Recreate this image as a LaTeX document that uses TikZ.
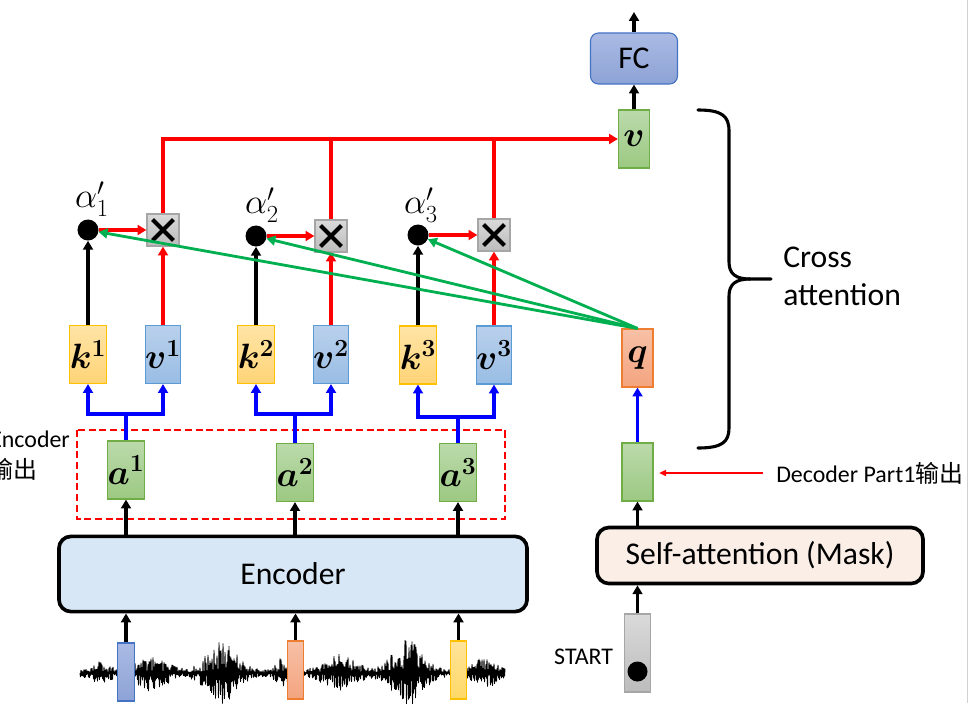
\RequirePackage{fix-cm}
\documentclass[tikz,border=0pt]{standalone}
\usepackage[no-math]{fontspec}
\setmainfont{Carlito}
\newfontfamily\cjk{Noto Sans CJK SC}
\usepackage{bm}
\usetikzlibrary{arrows.meta,calc}
\definecolor{gtop}{HTML}{BBDAAB}
\definecolor{gbot}{HTML}{9CC982}
\definecolor{gborder}{HTML}{70AD47}
\definecolor{ktop}{HTML}{FFE4A6}
\definecolor{kbot}{HTML}{FFD477}
\definecolor{kborder}{HTML}{FFC000}
\definecolor{vtop}{HTML}{B9D0EC}
\definecolor{vbot}{HTML}{99BDE4}
\definecolor{vborder}{HTML}{5B9BD5}
\definecolor{qtop}{HTML}{F7C0A6}
\definecolor{qbot}{HTML}{F4A47F}
\definecolor{qborder}{HTML}{ED7D31}
\definecolor{xtop}{HTML}{DADADA}
\definecolor{xbot}{HTML}{BCBCBC}
\definecolor{xborder}{HTML}{A6A6A6}
\definecolor{fctop}{HTML}{AABAE3}
\definecolor{fcbot}{HTML}{8DA3D6}
\definecolor{fcborder}{HTML}{4472C4}
\definecolor{ytop}{HTML}{FFE39A}
\definecolor{ybot}{HTML}{FFD966}
\definecolor{encfill}{HTML}{D8E7F6}
\definecolor{safill}{HTML}{FAEEE7}
\definecolor{grn}{HTML}{00B050}
\begin{document}
\begin{tikzpicture}[x=0.025cm,y=-0.025cm,
  tarrow/.style={-{Triangle[length=6.3pt,width=7pt]}},
  ln/.style={line width=2.3pt},
  redline/.style={ln, draw=red, color=red},
  blueline/.style={ln, draw=blue, color=blue},
  greenline/.style={line width=2pt, draw=grn, color=grn},
  vecbox/.style={draw, line width=0.8pt, minimum width=0.775cm, minimum height=1.45cm, inner sep=0pt, font=\fontsize{25pt}{28pt}\selectfont},
  kbox/.style={vecbox, draw=kborder, top color=ktop, bottom color=kbot},
  vbox/.style={vecbox, draw=vborder, top color=vtop, bottom color=vbot},
  abox/.style={vecbox, draw=gborder, top color=gtop, bottom color=gbot},
  qbox/.style={vecbox, draw=qborder, top color=qtop, bottom color=qbot},
  dot/.style={circle, fill=black, minimum size=0.525cm, inner sep=0pt},
  xbox/.style={draw=xborder, line width=0.8pt, top color=xtop, bottom color=xbot, minimum size=0.8cm, inner sep=0pt,
    path picture={
      \draw[black, line width=2.8pt] ([shift={(-0.26cm,-0.26cm)}]path picture bounding box.center) -- ([shift={(0.26cm,0.26cm)}]path picture bounding box.center);
      \draw[black, line width=2.8pt] ([shift={(-0.26cm,0.26cm)}]path picture bounding box.center) -- ([shift={(0.26cm,-0.26cm)}]path picture bounding box.center);
    }},
  alab/.style={inner sep=0pt, font=\fontsize{25pt}{28pt}\selectfont},
  bigtext/.style={font=\fontsize{22.5pt}{27pt}\selectfont},
  smalltext/.style={inner sep=0pt, font=\fontsize{17pt}{20pt}\selectfont},
  wblock/.style={draw, line width=0.8pt, minimum width=0.41cm, minimum height=1.45cm, inner sep=0pt},
  declare function={g(\x,\c,\w)=exp(-min(9,((\x-\c)/\w)*((\x-\c)/\w)));
    env(\x)=3.5+9*g(\x,100,12)+17*g(\x,152,18)+28*g(\x,222,20)+12*g(\x,282,8)+16*g(\x,340,20)+30*g(\x,408,20)+13*g(\x,485,14);}
]
\useasboundingbox (0,0) rectangle (971,703);
\clip (0,0) rectangle (971,703);
\fill[white] (0,0) rectangle (971,703);
\draw[line width=1.1pt, draw=black!18] (967.3,0) -- (967.3,703);

% waveform
\pgfmathsetseed{11}
\draw[line width=0.65pt, line join=bevel] (80,673) \foreach \i in {1,...,850} { -- ({80+0.5*\i},{673+(2*mod(\i,2)-1)*env(80+0.5*\i)*(0.12+0.88*rnd)}) };

% waveform blocks
\node[wblock, draw=fcborder, top color=fctop, bottom color=fcbot] (b1) at (126,672) {};
\node[wblock, draw=qborder, top color=qtop, bottom color=qbot] (b2) at (295.5,670) {};
\node[wblock, draw=kborder, top color=ytop, bottom color=ybot] (b3) at (458.5,670) {};

% encoder
\node[draw, line width=2.6pt, rounded corners=0.3cm, fill=encfill, minimum width=11.7cm, minimum height=1.88cm, bigtext] (enc) at (293,574) {Encoder};

% encoder output
\draw[red, dashed, line width=1.1pt, dash pattern=on 5pt off 2.6pt] (77,430) rectangle (505,519);
\node[abox] (a1) at (126,470) {$\bm{a}^{\bm{1}}$};
\node[abox] (a2) at (295,472.5) {$\bm{a}^{\bm{2}}$};
\node[abox] (a3) at (458,472.5) {$\bm{a}^{\bm{3}}$};
\node[smalltext, anchor=west] (enclbl) at (-10,439) {Encoder};
\node[smalltext, anchor=west] (enclbl2) at (-11,469) {\cjk 输出};

% k v boxes
\node[kbox] (k1) at (88,354.5) {$\bm{k}^{\bm{1}}$};
\node[vbox] (v1) at (163,354.5) {$\bm{v}^{\bm{1}}$};
\node[kbox] (k2) at (256,354.5) {$\bm{k}^{\bm{2}}$};
\node[vbox] (v2) at (331,354.5) {$\bm{v}^{\bm{2}}$};
\node[kbox] (k3) at (418,355) {$\bm{k}^{\bm{3}}$};
\node[vbox] (v3) at (494,355) {$\bm{v}^{\bm{3}}$};

% dots and multiply boxes
\node[dot] (d1) at (88,230) {};
\node[dot] (d2) at (256,236) {};
\node[dot] (d3) at (418,235) {};
\node[xbox] (x1) at (163,230) {};
\node[xbox] (x2) at (331,236) {};
\node[xbox] (x3) at (494,235) {};
\node[alab] (al1) at (92,199) {$\alpha'_1$};
\node[alab] (al2) at (262,205) {$\alpha'_2$};
\node[alab] (al3) at (421,205) {$\alpha'_3$};

% decoder side
\node[draw=fcborder, line width=0.8pt, rounded corners=0.2cm, top color=fctop, bottom color=fcbot, minimum width=2.175cm, minimum height=1.275cm, bigtext] (fc) at (634,58.5) {FC};
\coordinate (out) at (634,12);
\node[abox] (vv) at (634,139) {$\bm{v}$};
\node[qbox] (q) at (637.5,358) {$\bm{q}$};
\node[abox] (dec) at (637.5,472) {};
\node[draw, line width=2.6pt, rounded corners=0.3cm, fill=safill, minimum width=8.15cm, minimum height=1.4cm, bigtext] (sa) at (760,555.5) {Self-attention (Mask)};
\node[draw=xborder, line width=0.8pt, top color=xtop, bottom color=xbot, minimum width=0.65cm, minimum height=1.95cm, inner sep=0pt] (st) at (637.5,653) {};
\node[circle, fill=black, minimum size=0.5cm, inner sep=0pt] (stdot) at (637.5,671.5) {};
\node[smalltext, anchor=east] (stlbl) at (613.3,657) {START};
\node[smalltext, anchor=west] (declbl) at (776,473) {Decoder Part1{\cjk 输出}};
\node[bigtext, anchor=west, align=left, inner sep=0pt, font=\fontsize{22.5pt}{27pt}\selectfont] (ca) at (783,276) {Cross\\attention};

% brace
\draw[line width=2.2pt, line cap=round] (698,110) .. controls (722,110) and (729,116) .. (729,131) -- (729,262) .. controls (729,274) and (736,279) .. (750,279) -- (771,279);
\draw[line width=2.2pt, line cap=round] (750,279) .. controls (736,279) and (729,284) .. (729,296) -- (729,428) .. controls (729,442) and (722,448) .. (698,448);

% black arrows
\draw[ln, tarrow] (b1.north) -- (enc.south -| b1.north);
\draw[ln, tarrow] (b2.north) -- (enc.south -| b2.north);
\draw[ln, tarrow] (b3.north) -- (enc.south -| b3.north);
\draw[ln, tarrow] (enc.north -| a1.south) -- (a1.south);
\draw[ln, tarrow] (enc.north -| a2.south) -- (a2.south);
\draw[ln, tarrow] (enc.north -| a3.south) -- (a3.south);
\draw[ln, tarrow] (k1.north) -- (d1);
\draw[ln, tarrow] (k2.north) -- (d2);
\draw[ln, tarrow] (k3.north) -- (d3);
\draw[ln, tarrow] (st.north) -- (sa.south -| st.north);
\draw[ln, tarrow] (sa.north -| dec.south) -- (dec.south);
\draw[ln, tarrow] (vv.north) -- (fc.south -| vv.north);
\draw[ln, tarrow] (fc.north -| out) -- (out);

% blue connectors
\coordinate (j1) at (126,414);
\coordinate (j2) at (295,414);
\coordinate (j3) at (458,417);
\draw[blueline] (a1.north) -- (j1);
\draw[blueline] (a2.north) -- (j2);
\draw[blueline] (a3.north) -- (j3);
\draw[blueline, tarrow] (j1) -| (k1.south);
\draw[blueline, tarrow] (j1) -| (v1.south);
\draw[blueline, tarrow] (j2) -| (k2.south);
\draw[blueline, tarrow] (j2) -| (v2.south);
\draw[blueline, tarrow] (j3) -| (k3.south);
\draw[blueline, tarrow] (j3) -| (v3.south);
\draw[blueline, tarrow] (dec.north) -- (q.south);

% red connectors
\draw[redline, tarrow] (d1) -- (x1.west);
\draw[redline, tarrow] (d2) -- (x2.west);
\draw[redline, tarrow] (d3) -- (x3.west);
\draw[redline, tarrow] (v1.north) -- (x1.south);
\draw[redline, tarrow] (v2.north) -- (x2.south);
\draw[redline, tarrow] (v3.north) -- (x3.south);
\draw[redline, tarrow] (x1.north) |- (vv.west);
\draw[redline] (x2.north) -- (x2.north |- vv.west);
\draw[redline] (x3.north) -- (x3.north |- vv.west);
\draw[red, line width=0.8pt, -{Triangle[length=5pt,width=4.5pt]}, shorten <=9.5pt, shorten >=4pt] (declbl.west) -- (dec.east |- declbl.west);

% green connectors
\draw[greenline, tarrow] (q.north) -- (d1);
\draw[greenline, tarrow] (q.north) -- (d2);
\draw[greenline, tarrow] (q.north) -- (d3);
\end{tikzpicture}
\end{document}
